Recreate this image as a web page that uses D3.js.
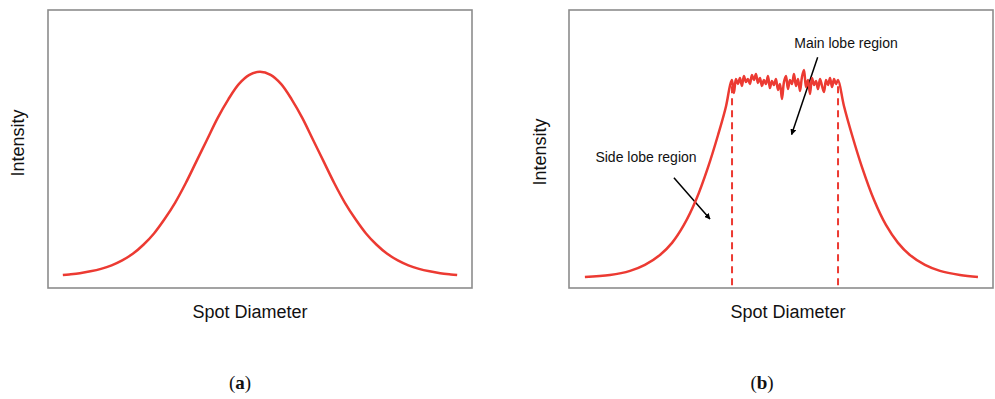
<!DOCTYPE html>
<html>
<head>
<meta charset="utf-8">
<script src="https://cdn.jsdelivr.net/npm/d3@7"></script>
<style>
  html, body { margin: 0; padding: 0; background: #fff; }
  svg { display: block; }
</style>
</head>
<body>
<svg id="chart" width="995" height="399"></svg>
<script>
// Spot diameter (arbitrary units, 0 = beam centre) and intensity (peak = 100)

// (a) Gaussian beam profile
const gaussX = [-93, -90, -85, -80, -75, -70, -65, -60, -55, -50, -45, -40, -35, -30, -25, -20, -15, -10, -5, 0,
                5, 10, 15, 20, 25, 30, 35, 40, 45, 50, 55, 60, 65, 70, 75, 80, 85, 90, 93];
const gaussI = [1.3, 1.6, 2.2, 3.1, 4.3, 6.0, 8.4, 11.6, 16.0, 21.5, 28.5, 36.5, 46, 56.5, 67, 77.5, 86.5, 94, 98.5, 100,
                98.5, 94, 86.5, 77.5, 67, 56.5, 46, 36.5, 28.5, 21.5, 16.0, 11.6, 8.4, 6.0, 4.3, 3.1, 2.2, 1.6, 1.3];

// (b) flat-top profile: rising edge, noisy main lobe, falling edge
const riseX = [-92.5, -80.7, -71.2, -64.2, -57.1, -51.4, -45.8, -40.1, -34.4, -29.7, -25.9];
const riseI = [0.3, 1.3, 3.3, 6.2, 11.0, 16.9, 25.6, 37.7, 53.7, 69.3, 83.4];
const topI = [93.1, 96.0, 89.7, 96.5, 94.1, 97.0, 93.1, 97.9, 95.0, 96.5,
              94.1, 98.4, 96.0, 98.9, 94.6, 97.0, 93.1, 96.0, 94.1, 97.9,
              92.1, 95.5, 93.6, 96.5, 91.2, 94.1, 86.8, 95.0, 97.9, 91.6,
              96.0, 94.1, 98.9, 93.1, 96.5, 90.7, 97.5, 100.9, 92.6, 96.0,
              89.2, 97.0, 93.6, 95.5, 91.6, 96.5, 93.1, 90.2, 96.0, 93.6,
              97.0, 92.6, 96.5, 94.1, 96.0];
const topStart = -24.1, topEnd = 26.9;
const fallX = [29.7, 33.5, 38.2, 43.9, 49.5, 55.2, 60.8, 67.9, 75.0, 84.4, 92.9];
const fallI = [83.4, 69.3, 53.7, 37.7, 25.6, 16.9, 11.0, 6.2, 3.3, 1.3, 0.3];

// main lobe boundaries (dashed markers)
const lobeEdges = [-23.1, 26.9];

const axisLabels = { x: "Spot Diameter", y: "Intensity" };
const captions = ["a", "b"];
const annotations = [
  { text: "Side lobe region", from: [-50.5, 48.5], to: [-33.5, 28.5] },
  { text: "Main lobe region", from: [17.3, 107], to: [5.0, 69.5] }
];

const red = "#ec3a32";
const svg = d3.select("#chart");

svg.append("defs").append("marker")
  .attr("id", "arrowhead")
  .attr("viewBox", "0 0 10 10")
  .attr("refX", 9).attr("refY", 5)
  .attr("markerWidth", 6).attr("markerHeight", 6)
  .attr("markerUnits", "userSpaceOnUse")
  .attr("orient", "auto")
  .append("path").attr("d", "M0,0 L10,5 L0,10 Z").attr("fill", "#000");

const panels = [
  { left: 48, cx: 250, labelX: 18, labelY: 143, titleY: 318, capX: 240 },
  { left: 569, cx: 788, labelX: 540, labelY: 152, titleY: 318, capX: 762 }
];
const plotW = 424, plotTop = 10, plotBottom = 288;

function makeScales(p) {
  return {
    x: d3.scaleLinear().domain([-100, 100]).range([p.left, p.left + plotW]),
    y: d3.scaleLinear().domain([-5, 130]).range([plotBottom, plotTop])
  };
}

panels.forEach((p, i) => {
  const s = makeScales(p);
  const g = svg.append("g");

  g.append("rect")
    .attr("x", p.left).attr("y", plotTop)
    .attr("width", plotW).attr("height", plotBottom - plotTop)
    .attr("fill", "none").attr("stroke", "#8c8c8c").attr("stroke-width", 1.6);

  g.append("text")
    .attr("transform", `translate(${p.labelX},${p.labelY}) rotate(-90)`)
    .attr("text-anchor", "middle").attr("dominant-baseline", "central")
    .attr("font-family", "Liberation Sans, Arial, Helvetica, sans-serif")
    .attr("font-size", 18).attr("fill", "#111")
    .text(axisLabels.y);

  g.append("text")
    .attr("x", p.cx).attr("y", p.titleY)
    .attr("text-anchor", "middle")
    .attr("font-family", "Liberation Sans, Arial, Helvetica, sans-serif")
    .attr("font-size", 18).attr("fill", "#111")
    .text(axisLabels.x);

  const cap = g.append("text")
    .attr("x", p.capX).attr("y", 389)
    .attr("text-anchor", "middle")
    .attr("font-family", "Liberation Serif, DejaVu Serif, serif")
    .attr("font-size", 19).attr("fill", "#111");
  cap.append("tspan").text("(");
  cap.append("tspan").attr("font-weight", "bold").text(captions[i]);
  cap.append("tspan").text(")");

  const line = d3.line()
    .x(d => s.x(d[0])).y(d => s.y(d[1]))
    .curve(d3.curveCatmullRom.alpha(0.5));

  let pts;
  if (i === 0) {
    pts = gaussX.map((x, k) => [x, gaussI[k]]);
  } else {
    const step = (topEnd - topStart) / (topI.length - 1);
    pts = riseX.map((x, k) => [x, riseI[k]])
      .concat(topI.map((v, k) => [topStart + k * step, v]))
      .concat(fallX.map((x, k) => [x, fallI[k]]));

    lobeEdges.forEach(e => {
      g.append("line")
        .attr("x1", s.x(e)).attr("x2", s.x(e))
        .attr("y1", s.y(93)).attr("y2", plotBottom)
        .attr("stroke", red).attr("stroke-width", 2)
        .attr("stroke-dasharray", "7,5");
    });

    annotations.forEach(a => {
      g.append("line")
        .attr("x1", s.x(a.from[0])).attr("y1", s.y(a.from[1]))
        .attr("x2", s.x(a.to[0])).attr("y2", s.y(a.to[1]))
        .attr("stroke", "#000").attr("stroke-width", 1.5)
        .attr("marker-end", "url(#arrowhead)");
    });
    g.append("text")
      .attr("x", 646).attr("y", 162).attr("text-anchor", "middle")
      .attr("font-family", "Liberation Sans, Arial, Helvetica, sans-serif")
      .attr("font-size", 14).attr("fill", "#111")
      .text(annotations[0].text);
    g.append("text")
      .attr("x", 846).attr("y", 48).attr("text-anchor", "middle")
      .attr("font-family", "Liberation Sans, Arial, Helvetica, sans-serif")
      .attr("font-size", 14).attr("fill", "#111")
      .text(annotations[1].text);
  }

  g.append("path")
    .datum(pts)
    .attr("d", line)
    .attr("fill", "none")
    .attr("stroke", red)
    .attr("stroke-width", 2.5)
    .attr("stroke-linejoin", "round");
});
</script>
</body>
</html>
